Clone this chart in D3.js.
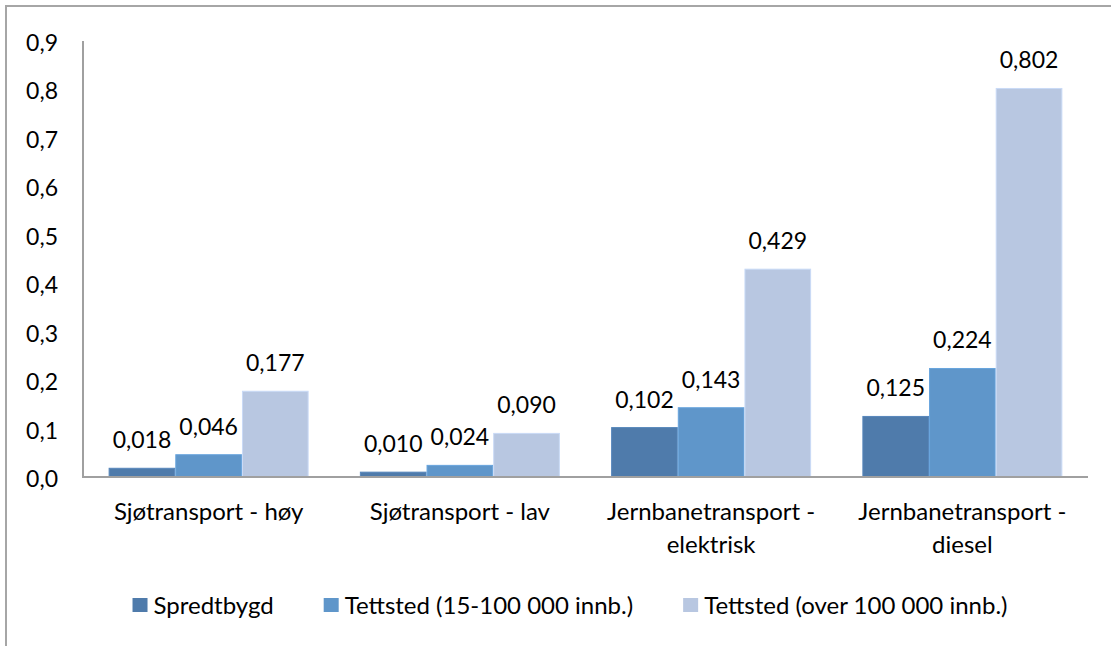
<!DOCTYPE html>
<html>
<head>
<meta charset="utf-8">
<script src="https://cdn.jsdelivr.net/npm/d3@7"></script>
<style>
  body { margin: 0; background: #fff; }
  svg text { font-family: Lato, "Open Sans", sans-serif; fill: #000; }
</style>
</head>
<body>
<svg id="chart" width="1111" height="646"></svg>
<script>
"use strict";

// categories (two lines where the label wraps)
const categories = [
  ["Sjøtransport - høy"],
  ["Sjøtransport - lav"],
  ["Jernbanetransport -", "elektrisk"],
  ["Jernbanetransport -", "diesel"]
];
const seriesNames = ["Spredtbygd", "Tettsted (15-100 000 innb.)", "Tettsted (over 100 000 innb.)"];
const spredtbygd = [0.018, 0.010, 0.102, 0.125];
const tettstedMiddels = [0.046, 0.024, 0.143, 0.224];
const tettstedStor = [0.177, 0.090, 0.429, 0.802];
const yTicks = [0, 0.1, 0.2, 0.3, 0.4, 0.5, 0.6, 0.7, 0.8, 0.9];
const colors = ["#4f7bab", "#5f96ca", "#b8c7e1"];

const series = [spredtbygd, tettstedMiddels, tettstedStor];
const svg = d3.select("#chart");
const numSize = 23;   // tick and value labels
const textSize = 24;  // category and legend labels

// outer chart border (runs off the right/bottom of the picture)
svg.append("rect")
  .attr("x", 6).attr("y", 6).attr("width", 1200).attr("height", 700)
  .attr("fill", "none").attr("stroke", "#a6a6a6").attr("stroke-width", 2);

const plot = { left: 83, right: 1088, top: 41, bottom: 477 };

const x0 = d3.scaleBand()
  .domain(d3.range(categories.length))
  .range([plot.left, plot.right])
  .paddingInner(0.204)
  .paddingOuter(0.102);

const x1 = d3.scaleBand()
  .domain(d3.range(series.length))
  .range([0, x0.bandwidth()]);

const y = d3.scaleLinear().domain([0, 0.9]).range([plot.bottom, plot.top]);
const fmt = v => d3.format(".3f")(v).replace(".", ",");

// y tick labels (no tick marks)
svg.append("g").selectAll("text").data(yTicks).join("text")
  .attr("x", 58)
  .attr("y", d => y(d) + 10)
  .attr("text-anchor", "end")
  .attr("font-size", numSize)
  .text(d => d3.format(".1f")(d).replace(".", ","));

// bars
const groups = svg.append("g").selectAll("g").data(categories).join("g")
  .attr("transform", (d, i) => `translate(${x0(i)},0)`);

groups.each(function (cat, ci) {
  const g = d3.select(this);
  series.forEach((vals, si) => {
    const v = vals[ci];
    g.append("rect")
      .attr("x", x1(si) + 0.5)
      .attr("y", y(v))
      .attr("width", x1.bandwidth() - 1)
      .attr("height", y(0) - y(v))
      .attr("fill", colors[si])
      .attr("stroke", d3.color(colors[si]).brighter(0.25))
      .attr("stroke-width", 1);
    g.append("text")
      .attr("x", x1(si) + x1.bandwidth() / 2)
      .attr("y", y(v) - 20)
      .attr("text-anchor", "middle")
      .attr("font-size", numSize)
      .text(fmt(v));
  });
});

// axis lines
svg.append("line")
  .attr("x1", plot.left).attr("x2", plot.left)
  .attr("y1", plot.top).attr("y2", plot.bottom)
  .attr("stroke", "#a0a0a0").attr("stroke-width", 2);
svg.append("line")
  .attr("x1", plot.left - 1).attr("x2", plot.right)
  .attr("y1", plot.bottom).attr("y2", plot.bottom)
  .attr("stroke", "#a0a0a0").attr("stroke-width", 2);

// category labels
svg.append("g").selectAll("text").data(categories).join("text")
  .attr("text-anchor", "middle")
  .attr("font-size", textSize)
  .each(function (lines, i) {
    const t = d3.select(this);
    lines.forEach((ln, li) => {
      t.append("tspan")
        .attr("x", x0(i) + x0.bandwidth() / 2)
        .attr("y", 520 + li * 33)
        .text(ln);
    });
  });

// legend
const legend = svg.append("g");
const items = legend.selectAll("g").data(seriesNames).join("g");
items.append("rect")
  .attr("width", 15).attr("height", 14)
  .attr("y", -16)
  .attr("fill", (d, i) => colors[i]);
items.append("text")
  .attr("x", 21).attr("y", 0)
  .attr("font-size", textSize)
  .text(d => d);

let cx = 0;
items.each(function () {
  const w = 21 + d3.select(this).select("text").node().getComputedTextLength();
  d3.select(this).attr("transform", `translate(${cx},0)`);
  cx += w + 50;
});
const total = cx - 50;
legend.attr("transform", `translate(${570 - total / 2},614)`);
</script>
</body>
</html>
